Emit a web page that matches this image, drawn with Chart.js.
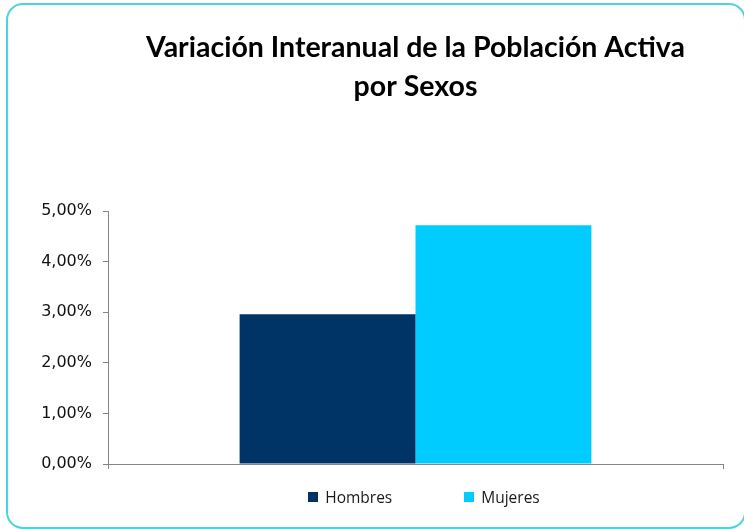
<!DOCTYPE html>
<html>
<head>
<meta charset="utf-8">
<script src="https://cdn.jsdelivr.net/npm/chart.js@4/dist/chart.umd.min.js"></script>
<style>
  html, body { margin: 0; padding: 0; background: #ffffff; }
  #wrap { position: relative; width: 744px; height: 529px; overflow: hidden; background: #fff; }
  #frame { position: absolute; left: 6px; top: 3px; width: 740px; height: 526px; box-sizing: border-box;
           border: 2px solid #4fd3da; border-radius: 17px; }
  canvas { position: absolute; left: 0; top: 0; }
  #legend { position: absolute; left: 52px; top: 486px; width: 744px; display: flex; justify-content: center;
            gap: 72px; font-family: "Open Sans", sans-serif; font-size: 15.5px; color: #1a1a1a; }
  #legend .item { display: flex; align-items: center; }
  #legend .box { width: 10px; height: 10px; margin-right: 7px; }
</style>
</head>
<body>
<div id="wrap">
  <div id="frame"></div>
  <canvas id="c" width="744" height="529"></canvas>
  <div id="legend"></div>
</div>
<script>
const titleLines = ["Variación Interanual de la Población Activa", "por Sexos"];
const categories = [""];
const seriesNames = ["Hombres", "Mujeres"];
const hombres = [0.0296];
const mujeres = [0.0472];
const seriesColors = ["#003366", "#00CCFF"];
const yTicks = [0, 0.01, 0.02, 0.03, 0.04, 0.05];

const fmt = v => (v * 100).toFixed(2).replace('.', ',') + '%';

const datasets = [hombres, mujeres].map((vals, i) => ({
  label: seriesNames[i],
  data: vals,
  backgroundColor: seriesColors[i],
  borderWidth: 0,
  categoryPercentage: 0.572,
  barPercentage: 1.0
}));

new Chart(document.getElementById('c'), {
  type: 'bar',
  data: { labels: categories, datasets },
  options: {
    responsive: false,
    animation: false,
    devicePixelRatio: 1,
    layout: { padding: { left: 0, right: 21, top: 0, bottom: 60 } },
    plugins: {
      legend: { display: false },
      tooltip: { enabled: false },
      title: {
        display: true,
        fullSize: false,
        text: titleLines,
        color: '#000000',
        font: { family: 'Lato', weight: 'bold', size: 28.5, lineHeight: 1.37 },
        padding: { top: 28.5, bottom: 104.5 }
      }
    },
    scales: {
      x: {
        offset: true,
        grid: { display: true, drawOnChartArea: false, drawTicks: true, tickLength: 5, color: '#868686', offset: true },
        border: { display: true, color: '#868686', width: 1 },
        ticks: { display: false },
        afterFit: s => { s.height = 5; }
      },
      y: {
        min: 0, max: 0.05,
        afterBuildTicks: s => { s.ticks = yTicks.map(v => ({ value: v })); },
        grid: { display: true, drawOnChartArea: false, drawTicks: true, tickLength: 5, color: '#868686' },
        border: { display: true, color: '#868686', width: 1 },
        ticks: { callback: v => fmt(v), color: '#111111', padding: 11,
                 font: { family: 'DejaVu Sans', size: 16 } },
        afterFit: s => { s.width = 108; }
      }
    }
  }
});

const leg = document.getElementById('legend');
seriesNames.forEach((n, i) => {
  const it = document.createElement('div'); it.className = 'item';
  const b = document.createElement('span'); b.className = 'box'; b.style.background = seriesColors[i];
  const t = document.createElement('span'); t.textContent = n;
  it.appendChild(b); it.appendChild(t); leg.appendChild(it);
});
</script>
</body>
</html>
